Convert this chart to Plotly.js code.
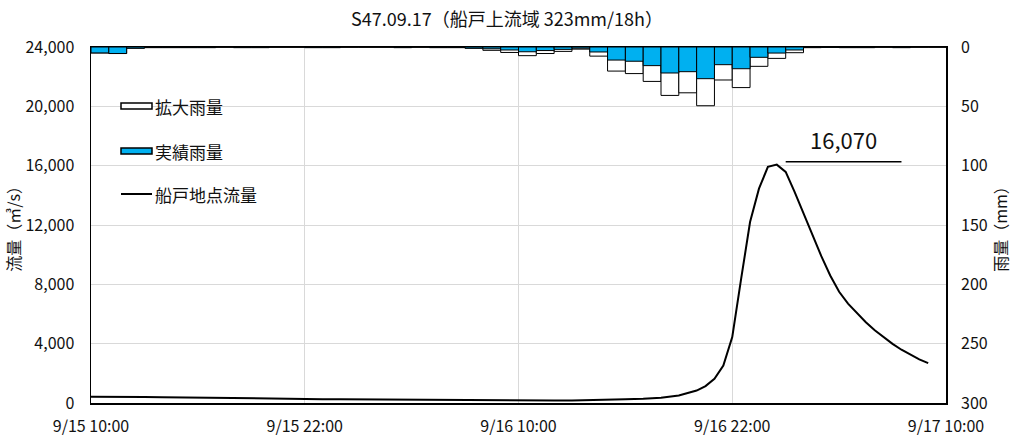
<!DOCTYPE html>
<html>
<head>
<meta charset="utf-8">
<script src="https://cdn.plot.ly/plotly-3.0.1.min.js"></script>
<style>
  html, body { margin: 0; padding: 0; background: #fff; }
  #chart { width: 1014px; height: 437px; }
</style>
</head>
<body>
<div id="chart"></div>
<script>
// Hourly rainfall, one bar per hour starting at 9/15 10:00 (mm)
const rainStart = '1972-09-15T10:00:00';
const rainActual = [
  5, 5.5, 1, 0.5, 0.5, 0.5, 0.5, 0, 0.5, 0.5, 0, 0,
  0.5, 0.5, 0, 0, 0, 0.5, 0, 0.5, 0.5, 1, 1.5, 2.5,
  4, 3, 2, 1, 4.2, 11, 12, 15.7, 21.9, 20.8, 26.7, 14.9,
  18.3, 8.7, 5.1, 2.5, 0.5, 0.3, 0.5, 0.5, 0, 0.5, 0, 0
];
const rainEnlarged = [
  5, 5.5, 1, 0.5, 0.5, 0.5, 0.5, 0, 0.5, 0.5, 0, 0,
  0.5, 0.5, 0, 0, 0, 0.5, 0, 0.5, 0.5, 1, 2.8, 4.6,
  7.3, 5.5, 3.7, 1.8, 7.7, 20.3, 22.4, 29, 40.8, 38.6, 49.5, 27.8,
  34.2, 16.3, 9.6, 4.8, 0.5, 0.3, 0.5, 0.5, 0, 0.5, 0, 0
];

// Discharge at Funato (m3/s)
const flowTimes = [
  '1972-09-15 10:00', '1972-09-15 11:00', '1972-09-15 12:00', '1972-09-15 13:00',
  '1972-09-15 14:00', '1972-09-15 15:00', '1972-09-15 16:00', '1972-09-15 17:00',
  '1972-09-15 18:00', '1972-09-15 19:00', '1972-09-15 20:00', '1972-09-15 21:00',
  '1972-09-15 22:00', '1972-09-15 23:00', '1972-09-16 00:00', '1972-09-16 01:00',
  '1972-09-16 02:00', '1972-09-16 03:00', '1972-09-16 04:00', '1972-09-16 05:00',
  '1972-09-16 06:00', '1972-09-16 07:00', '1972-09-16 08:00', '1972-09-16 09:00',
  '1972-09-16 10:00', '1972-09-16 11:00', '1972-09-16 12:00', '1972-09-16 13:00',
  '1972-09-16 14:00', '1972-09-16 15:00', '1972-09-16 16:00', '1972-09-16 17:00',
  '1972-09-16 18:00', '1972-09-16 19:00', '1972-09-16 20:00', '1972-09-16 20:30',
  '1972-09-16 21:00', '1972-09-16 21:30', '1972-09-16 22:00', '1972-09-16 22:30',
  '1972-09-16 23:00', '1972-09-16 23:30', '1972-09-17 00:00', '1972-09-17 00:30',
  '1972-09-17 01:00', '1972-09-17 01:30', '1972-09-17 02:00', '1972-09-17 02:30',
  '1972-09-17 03:00', '1972-09-17 03:30', '1972-09-17 04:00', '1972-09-17 04:30',
  '1972-09-17 05:00', '1972-09-17 05:30', '1972-09-17 06:00', '1972-09-17 06:30',
  '1972-09-17 07:00', '1972-09-17 07:30', '1972-09-17 08:00', '1972-09-17 08:30',
  '1972-09-17 09:00'
];
const flowValues = [
  420, 430, 430, 410, 390, 370, 350, 330, 310, 300, 290, 280,
  270, 260, 250, 240, 230, 220, 210, 200, 190, 185, 180, 175,
  170, 165, 165, 170, 185, 210, 250, 290, 360, 510, 840, 1140,
  1630, 2530, 4440, 8380, 12200, 14450, 15920, 16070, 15580, 14230,
  12770, 11300, 9900, 8600, 7500, 6700, 6050, 5450, 4900, 4420,
  3990, 3590, 3250, 2940, 2690
];

const legendNames = ['拡大雨量', '実績雨量', '船戸地点流量'];
const chartTitle = 'S47.09.17（船戸上流域 323mm/18h）';
const flowAxisTitle = '流量（㎥/s）';
const rainAxisTitle = '雨量（mm）';

const HOUR = 3600000;
const rainTimes = rainActual.map((_, i) => new Date(Date.parse(rainStart + 'Z') + i * HOUR).toISOString().slice(0, 19).replace('T', ' '));

const peakFlow = Math.max(...flowValues);
const peakLabel = peakFlow.toLocaleString('en-US');

const FONT = '"Noto Sans CJK JP", "Noto Sans", sans-serif';
const BLUE = '#00B0F0';

const traces = [
  {
    type: 'bar', name: legendNames[0], x: rainTimes, y: rainEnlarged,
    yaxis: 'y2', offset: 0, width: HOUR, showlegend: false,
    marker: { color: '#ffffff', line: { color: '#000', width: 1 } }
  },
  {
    type: 'bar', name: legendNames[1], x: rainTimes, y: rainActual,
    yaxis: 'y2', offset: 0, width: HOUR, showlegend: false,
    marker: { color: BLUE, line: { color: '#000', width: 1 } }
  },
  {
    type: 'scatter', mode: 'lines', name: legendNames[2], x: flowTimes, y: flowValues,
    yaxis: 'y', showlegend: false,
    line: { color: '#000', width: 2 }
  }
];

// Hand-drawn legend in the upper-left corner of the plot area
const legendShapes = [
  { type: 'rect', xref: 'paper', yref: 'paper', xsizemode: 'pixel', ysizemode: 'pixel',
    xanchor: 0, yanchor: 1, x0: 30, x1: 61, y0: -56, y1: -62,
    fillcolor: '#fff', line: { color: '#000', width: 1.5 } },
  { type: 'rect', xref: 'paper', yref: 'paper', xsizemode: 'pixel', ysizemode: 'pixel',
    xanchor: 0, yanchor: 1, x0: 30, x1: 61, y0: -101, y1: -107,
    fillcolor: BLUE, line: { color: '#000', width: 1.5 } },
  { type: 'line', xref: 'paper', yref: 'paper', xsizemode: 'pixel', ysizemode: 'pixel',
    xanchor: 0, yanchor: 1, x0: 30, x1: 61, y0: -147, y1: -147,
    line: { color: '#000', width: 2 } }
];
const legendOffsets = [-59, -104, -147];
const legendAnnotations = legendNames.map((name, i) => ({
  text: name, xref: 'paper', yref: 'paper', x: 0, y: 1,
  xanchor: 'left', yanchor: 'middle', xshift: 62, yshift: legendOffsets[i],
  showarrow: false, font: { family: FONT, size: 17, color: '#111' }
}));

const layout = {
  width: 1014, height: 437,
  margin: { l: 91, r: 68, t: 47, b: 34 },
  paper_bgcolor: '#fff', plot_bgcolor: '#fff',
  font: { family: FONT, size: 16, color: '#111' },
  barmode: 'overlay',
  title: {
    text: chartTitle, x: 0.5, xref: 'container', xanchor: 'center',
    y: 1 - 20 / 437, yref: 'container', yanchor: 'middle',
    font: { family: FONT, size: 18, color: '#111' }
  },
  xaxis: {
    type: 'date',
    range: ['1972-09-15 10:00', '1972-09-17 10:00'],
    tick0: '1972-09-15 10:00', dtick: 12 * HOUR,
    tickformat: '%-m/%-d %H:%M',
    showgrid: true, gridcolor: '#d9d9d9', gridwidth: 1,
    showline: true, linecolor: '#000', linewidth: 1.5, mirror: true,
    ticks: '', zeroline: false, ticklabelstandoff: 8,
    tickfont: { family: FONT, size: 16, color: '#111' }
  },
  yaxis: {
    range: [0, 24000], dtick: 4000, tickformat: ',',
    showgrid: true, gridcolor: '#d9d9d9', gridwidth: 1,
    showline: true, linecolor: '#000', linewidth: 1.5, mirror: true,
    ticks: '', zeroline: false, ticklabelstandoff: 12,
    tickfont: { family: FONT, size: 16, color: '#111' },
    title: { text: flowAxisTitle, standoff: 0, font: { family: FONT, size: 16, color: '#111' } }
  },
  yaxis2: {
    overlaying: 'y', side: 'right',
    range: [300, 0], dtick: 50,
    showgrid: false, zeroline: false, showline: false,
    ticks: '', ticklabelstandoff: 14,
    tickfont: { family: FONT, size: 16, color: '#111' },
    title: { text: rainAxisTitle, standoff: 6, font: { family: FONT, size: 16, color: '#111' } }
  },
  shapes: legendShapes.concat([
    // leader line under the peak discharge label
    { type: 'line', xref: 'x', yref: 'y', ysizemode: 'pixel', yanchor: peakFlow,
      x0: '1972-09-17 01:00', x1: '1972-09-17 07:30', y0: 3, y1: 3,
      line: { color: '#000', width: 1.5 } }
  ]),
  annotations: legendAnnotations.concat([
    { text: peakLabel, xref: 'x', yref: 'y', x: '1972-09-17 04:15', y: peakFlow,
      xanchor: 'center', yanchor: 'bottom', yshift: 8, showarrow: false,
      font: { family: FONT, size: 22, color: '#111' } }
  ])
};

Plotly.newPlot('chart', traces, layout, { displayModeBar: false, staticPlot: true });
</script>
</body>
</html>
